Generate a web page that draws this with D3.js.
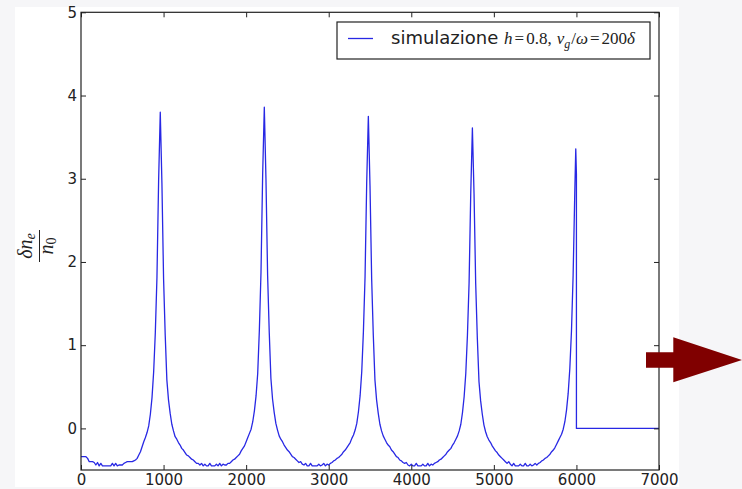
<!DOCTYPE html>
<html>
<head>
<meta charset="utf-8">
<script src="https://cdnjs.cloudflare.com/ajax/libs/d3/7.8.5/d3.min.js"></script>
<style>
  body { margin: 0; background: #f6f6f8; }
  svg { display: block; }
</style>
</head>
<body>
<div class="chart"></div>
<script>
// axis ticks
const xTicks = [0, 1000, 2000, 3000, 4000, 5000, 6000, 7000];
const yTicks = [0, 1, 2, 3, 4, 5];

// simulation samples, one value every 20 units of x
const sampleStep = 20;
const segmentStarts = [0, 960, 2220, 3480, 4740];

const segment0 = [
  -0.34, -0.34, -0.34, -0.34, -0.36, -0.40, -0.40, -0.40, -0.41, -0.44,
  -0.41, -0.45, -0.42, -0.45, -0.45, -0.45, -0.45, -0.45, -0.45, -0.42,
  -0.45, -0.42, -0.45, -0.44, -0.44, -0.44, -0.42, -0.41, -0.40, -0.40,
  -0.40, -0.40, -0.39, -0.38, -0.36, -0.32, -0.28, -0.22, -0.16, -0.11,
  -0.05, 0.03, 0.17, 0.37, 0.68, 1.15, 1.82, 2.98
];
const hump1 = [
  3.80, 2.95, 1.80, 1.12, 0.58, 0.34, 0.18, 0.05, -0.03, -0.10,
  -0.13, -0.17, -0.20, -0.24, -0.26, -0.29, -0.32, -0.33, -0.35, -0.37,
  -0.38, -0.40, -0.42, -0.42, -0.44, -0.42, -0.45, -0.43, -0.45, -0.45,
  -0.42, -0.45, -0.45, -0.45, -0.43, -0.45, -0.42, -0.45, -0.43, -0.44,
  -0.44, -0.42, -0.42, -0.40, -0.38, -0.37, -0.35, -0.33, -0.31, -0.27,
  -0.24, -0.21, -0.16, -0.11, -0.06, -0.01, 0.08, 0.21, 0.39, 0.66,
  1.18, 1.88, 3.05
];
const hump2 = [
  3.86, 3.00, 1.84, 1.15, 0.60, 0.35, 0.19, 0.06, -0.02, -0.09,
  -0.13, -0.16, -0.20, -0.23, -0.26, -0.28, -0.31, -0.34, -0.35, -0.37,
  -0.39, -0.41, -0.40, -0.43, -0.44, -0.42, -0.45, -0.45, -0.42, -0.45,
  -0.45, -0.45, -0.45, -0.43, -0.45, -0.44, -0.42, -0.45, -0.43, -0.44,
  -0.42, -0.41, -0.39, -0.38, -0.36, -0.35, -0.33, -0.31, -0.28, -0.26,
  -0.23, -0.20, -0.17, -0.12, -0.08, -0.02, 0.06, 0.20, 0.39, 0.68,
  1.16, 1.82, 2.95
];
const hump3 = [
  3.75, 2.92, 1.80, 1.12, 0.58, 0.34, 0.18, 0.05, -0.03, -0.09,
  -0.13, -0.17, -0.20, -0.22, -0.26, -0.28, -0.31, -0.34, -0.35, -0.38,
  -0.39, -0.41, -0.42, -0.41, -0.44, -0.45, -0.43, -0.45, -0.45, -0.42,
  -0.45, -0.45, -0.45, -0.43, -0.45, -0.45, -0.42, -0.45, -0.43, -0.44,
  -0.42, -0.41, -0.40, -0.38, -0.37, -0.35, -0.33, -0.31, -0.28, -0.26,
  -0.24, -0.20, -0.17, -0.13, -0.09, -0.03, 0.05, 0.19, 0.38, 0.66,
  1.12, 1.75, 2.82
];
const hump4 = [
  3.61, 2.82, 1.74, 1.08, 0.56, 0.33, 0.17, 0.04, -0.04, -0.10,
  -0.14, -0.17, -0.21, -0.24, -0.27, -0.29, -0.32, -0.34, -0.36, -0.38,
  -0.40, -0.42, -0.40, -0.43, -0.45, -0.42, -0.45, -0.45, -0.45, -0.43,
  -0.45, -0.45, -0.42, -0.45, -0.45, -0.43, -0.45, -0.44, -0.42, -0.44,
  -0.42, -0.41, -0.39, -0.38, -0.36, -0.35, -0.33, -0.31, -0.28, -0.26,
  -0.23, -0.19, -0.15, -0.11, -0.07, -0.01, 0.08, 0.22, 0.42, 0.72,
  1.17, 1.84, 2.83
];
// last peak, cut at 6000, then zero to the end
const tailX = [5992, 6000, 6000, 7000];
const tailY = [3.36, 3.05, 0, 0];

const segments = [segment0, hump1, hump2, hump3, hump4];
let simData = [];
segments.forEach((seg, s) => {
  seg.forEach((v, i) => simData.push({x: segmentStarts[s] + i * sampleStep, y: v}));
});
tailX.forEach((x, i) => simData.push({x: x, y: tailY[i]}));

// svg setup
let svgWidth = 742;
let svgHeight = 489;
const plot = {left: 81, top: 12.3, right: 659, bottom: 470};

let svg = d3.select(".chart")
            .append("svg")
            .attr("width", svgWidth)
            .attr("height", svgHeight);

svg.append("rect").attr("width", svgWidth).attr("height", svgHeight).attr("fill", "#f6f6f8");
svg.append("rect").attr("x", 15).attr("y", 7).attr("width", 664).attr("height", 480).attr("fill", "#fff");

let xScale = d3.scaleLinear().domain([0, 7000]).range([plot.left, plot.right]);
let yScale = d3.scaleLinear().domain([-0.5, 5]).range([plot.bottom, plot.top]);

// line
let line = d3.line().x(d => xScale(d.x)).y(d => yScale(d.y));
svg.append("path")
   .datum(simData)
   .attr("d", line)
   .attr("fill", "none")
   .attr("stroke", "#2828e4")
   .attr("stroke-width", 1.3)
   .attr("stroke-linejoin", "round");

// axes, ticks pointing inward like matplotlib
const tickFont = "'DejaVu Sans', sans-serif";
const fmt = d3.format("d");
svg.append("g")
   .attr("transform", `translate(0,${plot.bottom})`)
   .call(d3.axisBottom(xScale).tickValues(xTicks).tickFormat(fmt).tickSizeInner(-5).tickSizeOuter(0).tickPadding(4.5));
svg.append("g")
   .attr("transform", `translate(${plot.left},0)`)
   .call(d3.axisLeft(yScale).tickValues(yTicks).tickFormat(fmt).tickSizeInner(-5).tickSizeOuter(0).tickPadding(4));
svg.append("g")
   .attr("transform", `translate(0,${plot.top})`)
   .call(d3.axisTop(xScale).tickValues(xTicks).tickSizeInner(-5).tickSizeOuter(0).tickFormat(""));
svg.append("g")
   .attr("transform", `translate(${plot.right},0)`)
   .call(d3.axisRight(yScale).tickValues(yTicks).tickSizeInner(-5).tickSizeOuter(0).tickFormat(""));

svg.selectAll(".domain").remove();
svg.selectAll(".tick line").attr("stroke", "#222");
svg.selectAll(".tick text").attr("font-family", tickFont).attr("font-size", 15).attr("fill", "#222");

// frame
svg.append("rect")
   .attr("x", plot.left).attr("y", plot.top)
   .attr("width", plot.right - plot.left).attr("height", plot.bottom - plot.top)
   .attr("fill", "none").attr("stroke", "#222").attr("stroke-width", 1.2);

// y label: delta n_e over n_0
const serif = "'Liberation Serif', 'DejaVu Serif', serif";
let ylab = svg.append("g").attr("transform", "translate(39.5,246) rotate(-90)")
              .attr("font-family", serif).attr("font-size", 20).attr("fill", "#222");
let num = ylab.append("text").attr("x", 0).attr("y", -8).attr("text-anchor", "middle");
num.append("tspan").attr("font-style", "italic").text("δn");
num.append("tspan").attr("font-style", "italic").attr("font-size", 14).attr("dy", 3).text("e");
let den = ylab.append("text").attr("x", 0).attr("y", 13).attr("text-anchor", "middle");
den.append("tspan").attr("font-style", "italic").text("n");
den.append("tspan").attr("font-size", 14).attr("dy", 3).text("0");
ylab.append("line").attr("x1", -16).attr("x2", 16).attr("y1", 0).attr("y2", 0)
    .attr("stroke", "#222").attr("stroke-width", 1);

// legend
let legend = svg.append("g");
legend.append("rect").attr("x", 337).attr("y", 22).attr("width", 313).attr("height", 37)
      .attr("fill", "#fff").attr("stroke", "#222").attr("stroke-width", 1.2);
legend.append("line").attr("x1", 348).attr("x2", 373).attr("y1", 38.5).attr("y2", 38.5)
      .attr("stroke", "#2828e4").attr("stroke-width", 1.3);
let lt = legend.append("text").attr("x", 391).attr("y", 44).attr("fill", "#222").attr("font-size", 17);
lt.append("tspan").attr("font-family", tickFont).attr("font-size", 18).text("simulazione ");
const m = [
  {t: "h", it: true}, {t: "=", it: false, dx: 2}, {t: "0.8,", it: false, dx: 2},
  {t: "v", it: true, dx: 5}, {t: "g", it: true, sub: true}, {t: "/", it: false, dx: 1},
  {t: "ω", it: true}, {t: "=", it: false, dx: 2}, {t: "200", it: false, dx: 2}, {t: "δ", it: true}
];
let prevSub = false;
m.forEach(p => {
  let ts = lt.append("tspan").attr("font-family", serif).attr("font-style", p.it ? "italic" : "normal").text(p.t);
  if (p.dx) ts.attr("dx", p.dx);
  if (p.sub) { ts.attr("font-size", 12).attr("dy", 4); }
  else if (prevSub) { ts.attr("dy", -4); }
  prevSub = !!p.sub;
});

// red arrow on the right
svg.append("path")
   .attr("d", "M646,352.3 L673.3,352.3 L673.3,337.3 L742,360 L673.3,382.3 L673.3,367.7 L646,367.7 Z")
   .attr("fill", "#800000");
</script>
</body>
</html>
